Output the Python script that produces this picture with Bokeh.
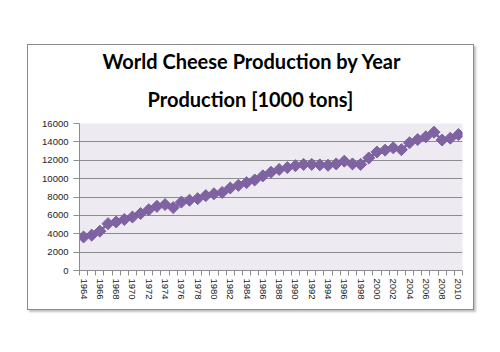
from math import pi
from bokeh.plotting import figure
from bokeh.models import FixedTicker, Range1d, Title
from bokeh.embed import file_html
from bokeh.resources import INLINE

# ---- data ----
years = list(range(1964, 2011))
production = [
    3650, 3850, 4280, 5100, 5280, 5550, 5820, 6200, 6620, 6980,
    7180, 6850, 7450, 7650, 7820, 8150, 8350, 8500, 8980, 9270,
    9560, 9850, 10300, 10700, 11000, 11200, 11400, 11550, 11550, 11500,
    11450, 11600, 11900, 11600, 11550, 12250, 12900, 13100, 13350, 13150,
    13900, 14250, 14550, 15050, 14200, 14400, 14800,
]
x_tick_labels = list(range(1964, 2011, 2))
y_ticks = list(range(0, 16001, 2000))
title_line1 = "World Cheese Production by Year"
title_line2 = "Production [1000 tons]"

PURPLE = "#7E62A1"
GRID = "#8c8c8c"

p = figure(
    width=447, height=266, output_backend="svg", toolbar_location=None,
    x_range=Range1d(years[0] - 0.5, years[-1] + 0.5),
    y_range=Range1d(0, 16000),
    min_border_left=51, min_border_right=13, min_border_top=78, min_border_bottom=41,
)
p.margin = (44, 0, 0, 27)
p.styles = {"border": "1px solid #8a8a8a", "box-shadow": "2px 2px 2px rgba(0,0,0,0.25)"}
p.background_fill_color = "#EDEBF1"
p.border_fill_color = "white"
p.outline_line_color = None

# titles (two lines, each centred on the chart box); later-added sits nearer the plot
title_style = dict(text_font="Lato", text_font_style="bold", text_font_size="20px",
                   text_color="black", align="left")
p.title = Title(text=title_line1, offset=23, standoff=0, **title_style)
p.add_layout(Title(text=title_line2, offset=68, standoff=25, **title_style), "above")

# grid
p.xgrid.visible = False
p.ygrid.ticker = FixedTicker(ticks=y_ticks)
p.ygrid.grid_line_color = GRID
p.ygrid.grid_line_width = 1

# y axis
p.yaxis.ticker = FixedTicker(ticks=y_ticks)
p.yaxis.axis_line_color = GRID
p.yaxis.major_tick_line_color = GRID
p.yaxis.major_tick_out = 6
p.yaxis.major_tick_in = 0
p.yaxis.minor_tick_line_color = None
p.yaxis.major_label_text_font = "Liberation Sans"
p.yaxis.major_label_text_font_size = "9.5px"
p.yaxis.major_label_text_color = "#222222"
p.yaxis.major_label_standoff = 5

# x axis: labels at even years, tick marks between categories
boundaries = [y - 0.5 for y in years] + [years[-1] + 0.5]
p.xaxis.ticker = FixedTicker(ticks=x_tick_labels, minor_ticks=boundaries)
p.xaxis.axis_line_color = GRID
p.xaxis.major_tick_line_color = None
p.xaxis.major_tick_out = 5
p.xaxis.major_tick_in = 0
p.xaxis.minor_tick_line_color = GRID
p.xaxis.minor_tick_out = 5
p.xaxis.minor_tick_in = 0
p.xaxis.major_label_orientation = "vertical"
p.xaxis.major_label_text_font = "Liberation Sans"
p.xaxis.major_label_text_font_size = "9.5px"
p.xaxis.major_label_text_color = "#222222"
p.xaxis.major_label_standoff = 3

# series
p.line(years, production, line_color=PURPLE, line_width=2.5)
p.scatter(years, production, marker="square", size=8.5, angle=pi / 4,
          fill_color=PURPLE, line_color=PURPLE)

open("out.html", "w").write(file_html(p, INLINE))
